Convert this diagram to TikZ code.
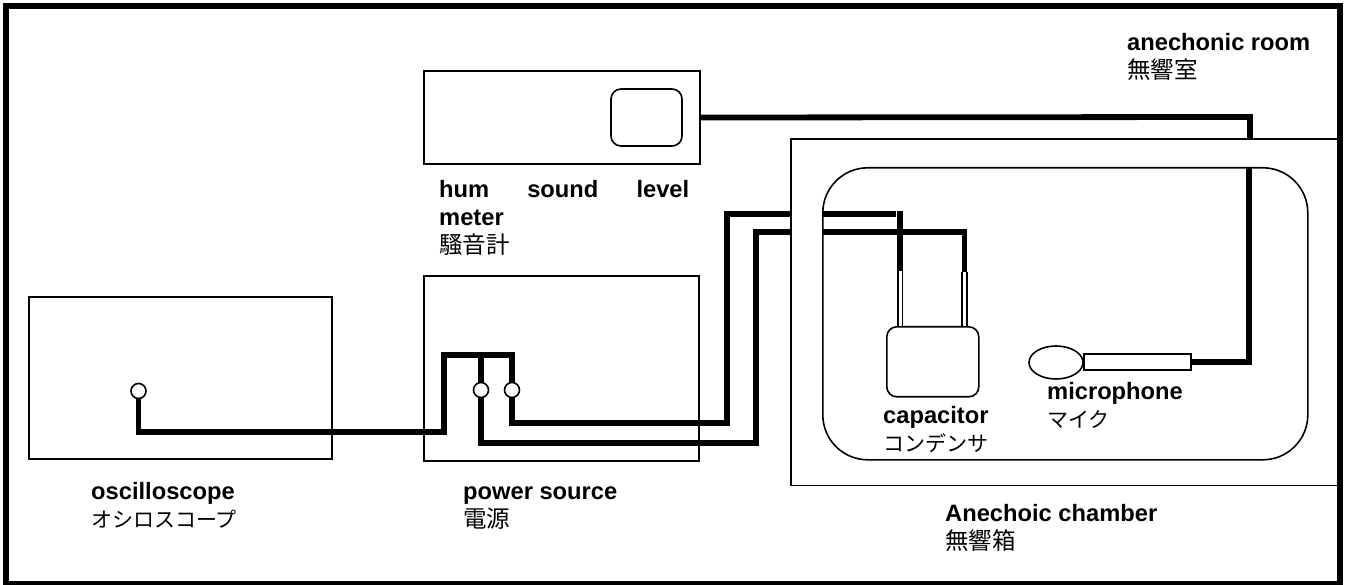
\documentclass[tikz,border=0pt]{standalone}
\usepackage{fontspec}
\usetikzlibrary{shapes.geometric}
\setmainfont{Liberation Sans}
\newfontfamily\jp{Noto Sans CJK JP}
\tikzset{
 thin box/.style={draw=black,line width=1.6pt,fill=none,inner sep=0pt},
 wire/.style={draw=black,line width=5.8pt,line join=miter},
 lead/.style={draw=black,line width=1.6pt,double=white,double distance=3pt},
 lbl/.style={anchor=north west,inner sep=0pt,align=left,font=\fontsize{23.7}{28}\selectfont\bfseries},
 term/.style={circle,draw=black,fill=white,line width=1.6pt,minimum size=15pt,inner sep=0pt},
}
\newcommand{\ja}[1]{{\jp\mdseries\fontsize{23.5}{28}\selectfont #1}}
\newcommand{\jk}[1]{{\jp\mdseries\fontsize{21}{28}\selectfont #1}}
\newcommand{\st}{\rule{0pt}{17pt}}
\begin{document}
\begin{tikzpicture}[x=1pt,y=-1pt]
\useasboundingbox (0,0) rectangle (1345,585);
\fill[white] (0,0) rectangle (1345,585);
\draw[line width=6pt] (6,6) rectangle (1340,584);
% boxes
\node[thin box,minimum width=276pt,minimum height=93pt] (hum) at (562,117.5) {};
\node[thin box,rounded corners=10pt,minimum width=71pt,minimum height=57pt] (screen) at (646.5,117.5) {};
\node[thin box,minimum width=303pt,minimum height=162pt] (osc) at (180.5,378) {};
\node[thin box,minimum width=275.5pt,minimum height=185pt] (pow) at (561.5,368.5) {};
\node[thin box,minimum width=548pt,minimum height=346pt,anchor=north west] (chamber) at (790,138.5) {};
\node[thin box,rounded corners=45pt,minimum width=485pt,minimum height=292pt,anchor=north west] (inner) at (822,167) {};
% coordinates
\coordinate (c1) at (1250,117);
\coordinate (c2) at (1250,138);
\coordinate (c3) at (1249,167);
\coordinate (c4) at (1249,362);
\coordinate (a0) at (727,423);
\coordinate (a1) at (727,214);
\coordinate (a2) at (790,214);
\coordinate (a3) at (822,214);
\coordinate (a4) at (896,214);
\coordinate (a5) at (900,211);
\coordinate (b0) at (756,443);
\coordinate (b1) at (756,232);
\coordinate (b2) at (790,232);
\coordinate (b3) at (822,232);
\coordinate (b4) at (964.5,232);
\coordinate (ao) at (900,271);
\coordinate (bo) at (964.5,272);
\coordinate (j1) at (444,432);
\coordinate (j2) at (444,355);
\coordinate (j3) at (512,355);
\coordinate (j4) at (481,355);
% wires
\draw[wire] (hum.east) -- (c1) -- (c2);
\node[term] (t0) at (138.5,391) {};
\node[term] (t1) at (481,390) {};
\node[term] (t2) at (512,390) {};
\node[thin box,rounded corners=10pt,minimum width=92pt,minimum height=70pt,anchor=north west] (cap) at (886,326) {};
\node[thin box,minimum width=107pt,minimum height=16pt,anchor=west] (rod) at (1083,362) {};
\node[thin box,ellipse,draw,fill=white,minimum width=54pt,minimum height=33pt] (bulb) at (1056,362.5) {};
\draw[wire] (t0.south) |- (j1) -- (j2) -- (j3) -- (t2.north);
\draw[wire] (j4) -- (t1.north);
\draw[wire] (t2.south) |- (a0) -- (a1) -- (a2);
\draw[wire] (t1.south) |- (b0) -- (b1) -- (b2);
\draw[wire] (a3) -- (a4);
\draw[wire] (a5) -- (ao);
\draw[wire] (b3) -- (b4) -- (bo);
\draw[wire] (c3) -- (c4) -- (rod.east);
\draw[lead] (ao) -- (ao |- cap.north);
\draw[lead] (bo) -- (bo |- cap.north);
% labels
\node[lbl] (l1) at (1127,33) {\st anechonic room\\\ja{無響室}};
\node[lbl,text width=250pt] (l2) at (439,180) {\hbox to 250pt{\st hum\hfil sound\hfil level}\\meter\\\ja{騷音計}};
\node[lbl] (l3) at (91,482) {\st oscilloscope\\\jk{オシロスコープ}};
\node[lbl] (l4) at (463,482) {\st power source\\\ja{電源}};
\node[lbl] (l5) at (945,504) {\st Anechoic chamber\\\ja{無響箱}};
\node[lbl] (l6) at (883,406) {\st capacitor\\\jk{コンデンサ}};
\node[lbl] (l7) at (1047,382) {\st microphone\\\jk{マイク}};
\end{tikzpicture}
\end{document}
